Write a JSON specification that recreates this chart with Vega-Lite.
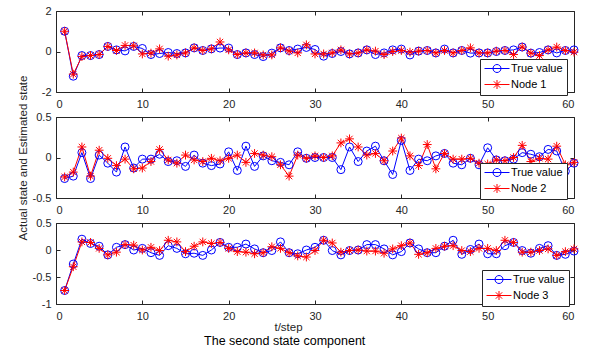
{
  "$schema": "https://vega.github.io/schema/vega-lite/v6.json",
  "padding": {"left": 16, "top": 4, "right": 5, "bottom": 3},
  "background": "white",
  "config": {
    "font": "Liberation Sans",
    "view": {"stroke": "#262626", "strokeWidth": 1},
    "axis": {
      "grid": false, "domain": false,
      "labelFont": "Liberation Sans", "labelFontSize": 11, "labelColor": "#262626",
      "tickColor": "#262626", "tickSize": -4, "tickWidth": 1,
      "titleFont": "Liberation Sans", "titleFontSize": 11.5, "titleFontWeight": "normal", "titleColor": "#262626"
    },
    "axisLeft": {"labelPadding": 9, "minExtent": 25, "maxExtent": 25, "titlePadding": 3},
    "axisRight": {"minExtent": 0, "maxExtent": 0},
    "axisBottom": {"labelPadding": 10, "titlePadding": 0},
    "axisTop": {"minExtent": 0, "maxExtent": 0},
    "legend": {
      "title": null, "orient": "none", "strokeColor": "#262626", "fillColor": "white",
      "padding": 4, "labelFont": "Liberation Sans", "labelFontSize": 11, "labelColor": "black",
      "labelOffset": 16, "symbolSize": 100, "symbolStrokeWidth": 1, "rowPadding": 3, "cornerRadius": 0
    }
  },
  "title": {
    "text": "The second state component", "orient": "bottom", "anchor": "middle",
    "font": "Liberation Sans", "fontSize": 12.5, "fontWeight": "normal", "color": "black",
    "offset": 2, "dx": -14
  },
  "datasets": {
    "d1": [
      {"t":1,"True value":1.0,"Node 1":1.0},{"t":2,"True value":-1.22,"Node 1":-1.12},{"t":3,"True value":-0.2,"Node 1":-0.25},
      {"t":4,"True value":-0.2,"Node 1":-0.2},{"t":5,"True value":-0.15,"Node 1":-0.15},{"t":6,"True value":0.25,"Node 1":0.25},
      {"t":7,"True value":0.08,"Node 1":0.05},{"t":8,"True value":0.03,"Node 1":0.3},{"t":9,"True value":0.25,"Node 1":0.28},
      {"t":10,"True value":0.15,"Node 1":-0.12},{"t":11,"True value":-0.15,"Node 1":-0.08},{"t":12,"True value":-0.1,"Node 1":0.13},
      {"t":13,"True value":-0.05,"Node 1":-0.23},{"t":14,"True value":-0.1,"Node 1":-0.17},{"t":15,"True value":-0.07,"Node 1":-0.07},
      {"t":16,"True value":0.18,"Node 1":0.18},{"t":17,"True value":0.05,"Node 1":0.05},{"t":18,"True value":0.13,"Node 1":0.13},
      {"t":19,"True value":0.17,"Node 1":0.47},{"t":20,"True value":0.17,"Node 1":0.08},{"t":21,"True value":-0.15,"Node 1":-0.15},
      {"t":22,"True value":-0.07,"Node 1":-0.07},{"t":23,"True value":-0.15,"Node 1":-0.07},{"t":24,"True value":-0.25,"Node 1":-0.17},
      {"t":25,"True value":-0.08,"Node 1":-0.17},{"t":26,"True value":0.18,"Node 1":0.18},{"t":27,"True value":0.05,"Node 1":0.02},
      {"t":28,"True value":0.12,"Node 1":-0.07},{"t":29,"True value":0.2,"Node 1":0.33},{"t":30,"True value":0.1,"Node 1":-0.12},
      {"t":31,"True value":-0.23,"Node 1":-0.12},{"t":32,"True value":-0.1,"Node 1":-0.07},{"t":33,"True value":0.0,"Node 1":0.08},
      {"t":34,"True value":-0.12,"Node 1":-0.12},{"t":35,"True value":-0.07,"Node 1":-0.07},{"t":36,"True value":0.08,"Node 1":0.08},
      {"t":37,"True value":-0.15,"Node 1":0.02},{"t":38,"True value":-0.07,"Node 1":-0.15},{"t":39,"True value":0.08,"Node 1":0.0},
      {"t":40,"True value":0.12,"Node 1":0.05},{"t":41,"True value":-0.17,"Node 1":-0.03},{"t":42,"True value":0.02,"Node 1":0.02},
      {"t":43,"True value":0.05,"Node 1":0.05},{"t":44,"True value":-0.07,"Node 1":-0.07},{"t":45,"True value":0.12,"Node 1":0.05},
      {"t":46,"True value":-0.07,"Node 1":-0.07},{"t":47,"True value":0.05,"Node 1":0.05},{"t":48,"True value":-0.08,"Node 1":0.18},
      {"t":49,"True value":-0.07,"Node 1":-0.07},{"t":50,"True value":-0.07,"Node 1":-0.07},{"t":51,"True value":0.0,"Node 1":0.02},
      {"t":52,"True value":0.05,"Node 1":0.05},{"t":53,"True value":0.08,"Node 1":-0.15},{"t":54,"True value":0.22,"Node 1":0.22},
      {"t":55,"True value":-0.08,"Node 1":-0.08},{"t":56,"True value":-0.05,"Node 1":-0.2},{"t":57,"True value":0.08,"Node 1":0.08},
      {"t":58,"True value":-0.07,"Node 1":0.22},{"t":59,"True value":0.05,"Node 1":0.05},{"t":60,"True value":0.08,"Node 1":-0.03}
    ],
    "d2": [
      {"t":1,"True value":-0.26,"Node 2":-0.24},{"t":2,"True value":-0.23,"Node 2":-0.18},{"t":3,"True value":0.06,"Node 2":0.13},
      {"t":4,"True value":-0.26,"Node 2":-0.23},{"t":5,"True value":0.03,"Node 2":0.09},{"t":6,"True value":-0.07,"Node 2":-0.01},
      {"t":7,"True value":-0.18,"Node 2":-0.1},{"t":8,"True value":0.13,"Node 2":-0.02},{"t":9,"True value":-0.13,"Node 2":-0.14},
      {"t":10,"True value":-0.02,"Node 2":-0.13},{"t":11,"True value":-0.02,"Node 2":-0.05},{"t":12,"True value":0.04,"Node 2":0.1},
      {"t":13,"True value":-0.05,"Node 2":-0.03},{"t":14,"True value":-0.04,"Node 2":-0.07},{"t":15,"True value":-0.11,"Node 2":0.03},
      {"t":16,"True value":0.03,"Node 2":-0.03},{"t":17,"True value":-0.07,"Node 2":-0.05},{"t":18,"True value":-0.1,"Node 2":-0.01},
      {"t":19,"True value":-0.08,"Node 2":-0.04},{"t":20,"True value":0.07,"Node 2":-0.01},{"t":21,"True value":-0.16,"Node 2":0.03},
      {"t":22,"True value":0.14,"Node 2":-0.06},{"t":23,"True value":-0.11,"Node 2":0.05},{"t":24,"True value":0.02,"Node 2":0.03},
      {"t":25,"True value":-0.04,"Node 2":0.01},{"t":26,"True value":-0.06,"Node 2":-0.09},{"t":27,"True value":-0.09,"Node 2":-0.23},
      {"t":28,"True value":0.07,"Node 2":0.03},{"t":29,"True value":-0.01,"Node 2":-0.01},{"t":30,"True value":0.0,"Node 2":0.02},
      {"t":31,"True value":0.0,"Node 2":0.0},{"t":32,"True value":0.0,"Node 2":0.02},{"t":33,"True value":-0.15,"Node 2":0.18},
      {"t":34,"True value":0.13,"Node 2":0.23},{"t":35,"True value":-0.05,"Node 2":0.13},{"t":36,"True value":0.08,"Node 2":0.03},
      {"t":37,"True value":0.14,"Node 2":0.05},{"t":38,"True value":-0.04,"Node 2":-0.04},{"t":39,"True value":-0.21,"Node 2":0.08},
      {"t":40,"True value":0.21,"Node 2":0.24},{"t":41,"True value":-0.16,"Node 2":0.02},{"t":42,"True value":-0.02,"Node 2":-0.1},
      {"t":43,"True value":-0.04,"Node 2":0.16},{"t":44,"True value":0.02,"Node 2":-0.14},{"t":45,"True value":0.05,"Node 2":0.05},
      {"t":46,"True value":-0.07,"Node 2":-0.02},{"t":47,"True value":-0.09,"Node 2":-0.02},{"t":48,"True value":-0.01,"Node 2":-0.01},
      {"t":49,"True value":-0.09,"Node 2":-0.07},{"t":50,"True value":0.12,"Node 2":-0.08},{"t":51,"True value":-0.03,"Node 2":-0.03},
      {"t":52,"True value":-0.04,"Node 2":-0.04},{"t":53,"True value":-0.02,"Node 2":0.0},{"t":54,"True value":0.06,"Node 2":0.15},
      {"t":55,"True value":0.04,"Node 2":-0.05},{"t":56,"True value":0.01,"Node 2":-0.01},{"t":57,"True value":0.1,"Node 2":-0.02},
      {"t":58,"True value":0.08,"Node 2":0.14},{"t":59,"True value":-0.17,"Node 2":-0.09},{"t":60,"True value":-0.07,"Node 2":-0.06}
    ],
    "d3": [
      {"t":1,"True value":-0.75,"Node 3":-0.75},{"t":2,"True value":-0.26,"Node 3":-0.31},{"t":3,"True value":0.2,"Node 3":0.15},
      {"t":4,"True value":0.12,"Node 3":0.14},{"t":5,"True value":0.07,"Node 3":0.03},{"t":6,"True value":-0.09,"Node 3":-0.09},
      {"t":7,"True value":0.05,"Node 3":-0.04},{"t":8,"True value":0.1,"Node 3":0.1},{"t":9,"True value":0.0,"Node 3":0.09},
      {"t":10,"True value":0.03,"Node 3":0.0},{"t":11,"True value":-0.05,"Node 3":0.05},{"t":12,"True value":-0.1,"Node 3":-0.01},
      {"t":13,"True value":0.08,"Node 3":0.18},{"t":14,"True value":0.03,"Node 3":0.15},{"t":15,"True value":-0.07,"Node 3":-0.03},
      {"t":16,"True value":-0.06,"Node 3":0.07},{"t":17,"True value":-0.1,"Node 3":0.15},{"t":18,"True value":0.0,"Node 3":0.12},
      {"t":19,"True value":0.14,"Node 3":0.14},{"t":20,"True value":0.05,"Node 3":0.03},{"t":21,"True value":0.05,"Node 3":-0.03},
      {"t":22,"True value":0.11,"Node 3":-0.04},{"t":23,"True value":0.02,"Node 3":-0.07},{"t":24,"True value":-0.05,"Node 3":-0.05},
      {"t":25,"True value":-0.01,"Node 3":0.06},{"t":26,"True value":0.15,"Node 3":0.03},{"t":27,"True value":-0.05,"Node 3":-0.05},
      {"t":28,"True value":-0.07,"Node 3":-0.11},{"t":29,"True value":0.0,"Node 3":-0.13},{"t":30,"True value":0.05,"Node 3":-0.01},
      {"t":31,"True value":0.18,"Node 3":0.18},{"t":32,"True value":-0.01,"Node 3":0.13},{"t":33,"True value":-0.09,"Node 3":-0.04},
      {"t":34,"True value":-0.01,"Node 3":-0.01},{"t":35,"True value":0.0,"Node 3":0.0},{"t":36,"True value":0.1,"Node 3":-0.02},
      {"t":37,"True value":0.1,"Node 3":-0.02},{"t":38,"True value":0.02,"Node 3":-0.06},{"t":39,"True value":-0.09,"Node 3":0.02},
      {"t":40,"True value":-0.03,"Node 3":0.08},{"t":41,"True value":0.13,"Node 3":0.13},{"t":42,"True value":0.02,"Node 3":-0.08},
      {"t":43,"True value":-0.05,"Node 3":-0.05},{"t":44,"True value":-0.05,"Node 3":0.03},{"t":45,"True value":0.07,"Node 3":0.07},
      {"t":46,"True value":0.18,"Node 3":0.08},{"t":47,"True value":-0.08,"Node 3":-0.01},{"t":48,"True value":0.01,"Node 3":-0.03},
      {"t":49,"True value":0.11,"Node 3":0.03},{"t":50,"True value":-0.07,"Node 3":0.03},{"t":51,"True value":-0.07,"Node 3":-0.01},
      {"t":52,"True value":0.08,"Node 3":0.18},{"t":53,"True value":0.14,"Node 3":0.14},{"t":54,"True value":-0.01,"Node 3":-0.04},
      {"t":55,"True value":-0.06,"Node 3":-0.04},{"t":56,"True value":0.03,"Node 3":-0.01},{"t":57,"True value":0.08,"Node 3":0.02},
      {"t":58,"True value":-0.1,"Node 3":-0.1},{"t":59,"True value":-0.08,"Node 3":-0.03},{"t":60,"True value":-0.02,"Node 3":0.02}
    ]
  },
  "vconcat": [
    {
      "width": 518, "height": 81,
      "data": {"name": "d1"},
      "transform": [{"fold": ["True value", "Node 1"], "as": ["s", "v"]}],
      "encoding": {
        "x": {"field": "t", "type": "quantitative", "scale": {"domain": [0, 60], "nice": false}, "axis": {"values": [0,10,20,30,40,50,60], "title": null}},
        "y": {"field": "v", "type": "quantitative", "scale": {"domain": [-2, 2], "nice": false}, "axis": {"values": [-2,0,2], "title": null, "labelExpr": "toString(datum.value)"}}
      },
      "layer": [
        {"mark": {"type": "line", "strokeWidth": 1},
         "encoding": {"color": {"field": "s", "type": "nominal", "scale": {"domain": ["True value", "Node 1"], "range": ["#0000ff", "#ff0000"]}, "legend": null}}},
        {"mark": {"type": "point", "filled": false, "size": 64, "strokeWidth": 1, "opacity": 1},
         "encoding": {
           "x": {"field": "t", "type": "quantitative", "axis": null},
           "y": {"field": "v", "type": "quantitative", "axis": null},
           "color": {"field": "s", "type": "nominal", "scale": {"domain": ["True value", "Node 1"], "range": ["#0000ff", "#ff0000"]}, "legend": null},
           "shape": {"field": "s", "type": "nominal", "scale": {"domain": ["True value", "Node 1"], "range": ["circle", "M-1.1,0L1.1,0M0,-1.1L0,1.1M-0.78,-0.78L0.78,0.78M-0.78,0.78L0.78,-0.78"]}, "legend": null}}},
        {"transform": [{"filter": "false"}],
         "mark": {"type": "point", "filled": false, "strokeWidth": 1, "opacity": 1},
         "encoding": {
           "x": {"field": "t", "type": "quantitative", "axis": {"orient": "top", "labels": false, "values": [0,10,20,30,40,50,60], "title": null}},
           "y": {"field": "v", "type": "quantitative", "axis": {"orient": "right", "labels": false, "values": [-2,0,2], "title": null}},
           "color": {"field": "s", "type": "nominal", "scale": {"domain": ["True value", "Node 1"], "range": ["#0000ff", "#ff0000"]}, "legend": {"legendX": 424, "legendY": 48}},
           "shape": {"field": "s", "type": "nominal", "scale": {"domain": ["True value", "Node 1"], "range": ["M-1,0L4,0M0.7,0A0.8,0.8 0 1,1 2.3,0A0.8,0.8 0 1,1 0.7,0", "M-1,0L4,0M1.5,-0.9L1.5,0.9M0.86,-0.64L2.14,0.64M0.86,0.64L2.14,-0.64"]}, "legend": {"legendX": 424, "legendY": 48}}}}
      ],
      "resolve": {"scale": {"shape": "independent", "color": "independent"}, "axis": {"x": "independent", "y": "independent"}}
    },
    {
      "width": 518, "height": 81,
      "data": {"name": "d2"},
      "transform": [{"fold": ["True value", "Node 2"], "as": ["s", "v"]}],
      "encoding": {
        "x": {"field": "t", "type": "quantitative", "scale": {"domain": [0, 60], "nice": false}, "axis": {"values": [0,10,20,30,40,50,60], "title": null}},
        "y": {"field": "v", "type": "quantitative", "scale": {"domain": [-0.5, 0.5], "nice": false}, "axis": {"values": [-0.5,0,0.5], "title": "Actual state and Estimated state", "labelExpr": "toString(datum.value)"}}
      },
      "layer": [
        {"mark": {"type": "line", "strokeWidth": 1},
         "encoding": {"color": {"field": "s", "type": "nominal", "scale": {"domain": ["True value", "Node 2"], "range": ["#0000ff", "#ff0000"]}, "legend": null}}},
        {"mark": {"type": "point", "filled": false, "size": 64, "strokeWidth": 1, "opacity": 1},
         "encoding": {
           "x": {"field": "t", "type": "quantitative", "axis": null},
           "y": {"field": "v", "type": "quantitative", "axis": null},
           "color": {"field": "s", "type": "nominal", "scale": {"domain": ["True value", "Node 2"], "range": ["#0000ff", "#ff0000"]}, "legend": null},
           "shape": {"field": "s", "type": "nominal", "scale": {"domain": ["True value", "Node 2"], "range": ["circle", "M-1.1,0L1.1,0M0,-1.1L0,1.1M-0.78,-0.78L0.78,0.78M-0.78,0.78L0.78,-0.78"]}, "legend": null}}},
        {"transform": [{"filter": "false"}],
         "mark": {"type": "point", "filled": false, "strokeWidth": 1, "opacity": 1},
         "encoding": {
           "x": {"field": "t", "type": "quantitative", "axis": {"orient": "top", "labels": false, "values": [0,10,20,30,40,50,60], "title": null}},
           "y": {"field": "v", "type": "quantitative", "axis": {"orient": "right", "labels": false, "values": [-0.5,0,0.5], "title": null}},
           "color": {"field": "s", "type": "nominal", "scale": {"domain": ["True value", "Node 2"], "range": ["#0000ff", "#ff0000"]}, "legend": {"legendX": 424, "legendY": 46}},
           "shape": {"field": "s", "type": "nominal", "scale": {"domain": ["True value", "Node 2"], "range": ["M-1,0L4,0M0.7,0A0.8,0.8 0 1,1 2.3,0A0.8,0.8 0 1,1 0.7,0", "M-1,0L4,0M1.5,-0.9L1.5,0.9M0.86,-0.64L2.14,0.64M0.86,0.64L2.14,-0.64"]}, "legend": {"legendX": 424, "legendY": 46}}}}
      ],
      "resolve": {"scale": {"shape": "independent", "color": "independent"}, "axis": {"x": "independent", "y": "independent"}}
    },
    {
      "width": 518, "height": 81,
      "data": {"name": "d3"},
      "transform": [{"fold": ["True value", "Node 3"], "as": ["s", "v"]}],
      "encoding": {
        "x": {"field": "t", "type": "quantitative", "scale": {"domain": [0, 60], "nice": false}, "axis": {"values": [0,10,20,30,40,50,60], "title": "t/step", "titleX": 232}},
        "y": {"field": "v", "type": "quantitative", "scale": {"domain": [-1, 0.5], "nice": false}, "axis": {"values": [-1,-0.5,0,0.5], "title": null, "labelExpr": "toString(datum.value)"}}
      },
      "layer": [
        {"mark": {"type": "line", "strokeWidth": 1},
         "encoding": {"color": {"field": "s", "type": "nominal", "scale": {"domain": ["True value", "Node 3"], "range": ["#0000ff", "#ff0000"]}, "legend": null}}},
        {"mark": {"type": "point", "filled": false, "size": 64, "strokeWidth": 1, "opacity": 1},
         "encoding": {
           "x": {"field": "t", "type": "quantitative", "axis": null},
           "y": {"field": "v", "type": "quantitative", "axis": null},
           "color": {"field": "s", "type": "nominal", "scale": {"domain": ["True value", "Node 3"], "range": ["#0000ff", "#ff0000"]}, "legend": null},
           "shape": {"field": "s", "type": "nominal", "scale": {"domain": ["True value", "Node 3"], "range": ["circle", "M-1.1,0L1.1,0M0,-1.1L0,1.1M-0.78,-0.78L0.78,0.78M-0.78,0.78L0.78,-0.78"]}, "legend": null}}},
        {"transform": [{"filter": "false"}],
         "mark": {"type": "point", "filled": false, "strokeWidth": 1, "opacity": 1},
         "encoding": {
           "x": {"field": "t", "type": "quantitative", "axis": {"orient": "top", "labels": false, "values": [0,10,20,30,40,50,60], "title": null}},
           "y": {"field": "v", "type": "quantitative", "axis": {"orient": "right", "labels": false, "values": [-1,-0.5,0,0.5], "title": null}},
           "color": {"field": "s", "type": "nominal", "scale": {"domain": ["True value", "Node 3"], "range": ["#0000ff", "#ff0000"]}, "legend": {"legendX": 426, "legendY": 47}},
           "shape": {"field": "s", "type": "nominal", "scale": {"domain": ["True value", "Node 3"], "range": ["M-1,0L4,0M0.7,0A0.8,0.8 0 1,1 2.3,0A0.8,0.8 0 1,1 0.7,0", "M-1,0L4,0M1.5,-0.9L1.5,0.9M0.86,-0.64L2.14,0.64M0.86,0.64L2.14,-0.64"]}, "legend": {"legendX": 426, "legendY": 47}}}}
      ],
      "resolve": {"scale": {"shape": "independent", "color": "independent"}, "axis": {"x": "independent", "y": "independent"}}
    }
  ],
  "bounds": "flush",
  "spacing": 25,
  "resolve": {"scale": {"color": "independent", "shape": "independent"}, "legend": {"color": "independent", "shape": "independent"}}
}
